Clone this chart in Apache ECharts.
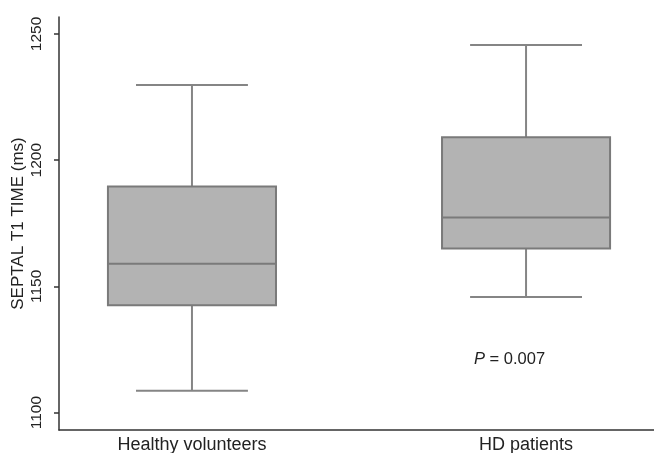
<!DOCTYPE html>
<html><head><meta charset="utf-8">
<script src="https://cdn.jsdelivr.net/npm/echarts@6/dist/echarts.min.js"></script>
<style>html,body{margin:0;padding:0;background:#fff}#c{width:654px;height:453px}</style>
</head><body><div id="c"></div>
<script>
// Data
const categories = ["Healthy volunteers", "HD patients"];
const whiskerLow = [1108.6, 1145.8];
const q1 = [1142.5, 1165.0];
const medians = [1159.0, 1177.3];
const q3 = [1189.6, 1209.1];
const whiskerHigh = [1229.8, 1245.6];
const yTicks = [1100, 1150, 1200, 1250];
const positions = [1, 2];

const data = categories.map((c, i) => [positions[i], whiskerLow[i], q1[i], medians[i], q3[i], whiskerHigh[i]]);

const chart = echarts.init(document.getElementById('c'), null, {renderer: 'canvas'});
const font = '"Liberation Sans", Arial, sans-serif';
chart.setOption({
  animation: false,
  grid: {left: 59, right: 0, top: 17, bottom: 23, containLabel: false, outerBoundsMode: 'none'},
  xAxis: {
    type: 'value', min: 0.602, max: 2.383,
    splitLine: {show: false},
    axisLine: {show: true, lineStyle: {color: '#333', width: 1.5}},
    axisTick: {show: false},
    axisLabel: {
      customValues: positions,
      formatter: v => categories[positions.indexOf(Math.round(v))] || '',
      color: '#222', fontFamily: font, fontSize: 18, margin: 6
    }
  },
  yAxis: {
    type: 'value', min: 1093.1, max: 1256.7,
    name: 'SEPTAL T1 TIME (ms)', nameLocation: 'middle', nameGap: 32, nameMoveOverlap: false,
    nameTextStyle: {color: '#222', fontFamily: font, fontSize: 17},
    splitLine: {show: false},
    axisLine: {show: true, lineStyle: {color: '#333', width: 1.5}},
    axisTick: {show: true, length: 5, customValues: yTicks, lineStyle: {color: '#333', width: 1.5}},
    axisLabel: {customValues: yTicks, rotate: 90, formatter: v => String(v),
      color: '#222', fontFamily: font, fontSize: 15.5, margin: 14}
  },
  series: [{
    type: 'custom',
    data: data,
    renderItem: function (params, api) {
      const x = api.value(0);
      const pLow = api.coord([x, api.value(1)]);
      const pQ1 = api.coord([x, api.value(2)]);
      const pMed = api.coord([x, api.value(3)]);
      const pQ3 = api.coord([x, api.value(4)]);
      const pHigh = api.coord([x, api.value(5)]);
      const boxW = api.size([0.503, 0])[0];
      const capW = api.size([0.335, 0])[0];
      const cx = pMed[0];
      const ls = {stroke: '#858585', lineWidth: 2};
      return {
        type: 'group',
        children: [
          {type: 'line', shape: {x1: cx, y1: pHigh[1], x2: cx, y2: pQ3[1]}, style: ls},
          {type: 'line', shape: {x1: cx, y1: pQ1[1], x2: cx, y2: pLow[1]}, style: ls},
          {type: 'line', shape: {x1: cx - capW / 2, y1: pHigh[1], x2: cx + capW / 2, y2: pHigh[1]}, style: ls},
          {type: 'line', shape: {x1: cx - capW / 2, y1: pLow[1], x2: cx + capW / 2, y2: pLow[1]}, style: ls},
          {type: 'rect', shape: {x: cx - boxW / 2, y: pQ3[1], width: boxW, height: pQ1[1] - pQ3[1]},
            style: {fill: '#b3b3b3', stroke: '#7a7a7a', lineWidth: 2}},
          {type: 'line', shape: {x1: cx - boxW / 2, y1: pMed[1], x2: cx + boxW / 2, y2: pMed[1]},
            style: {stroke: '#7a7a7a', lineWidth: 2}}
        ]
      };
    }
  }],
  graphic: [{
    type: 'text', left: 474, top: 351,
    style: {
      text: '{i|P} = 0.007',
      rich: {i: {fontStyle: 'italic', fontFamily: font, fontSize: 16.5, fill: '#222'}},
      fontFamily: font, fontSize: 16.5, fill: '#222'
    }
  }]
});
</script>
</body></html>
